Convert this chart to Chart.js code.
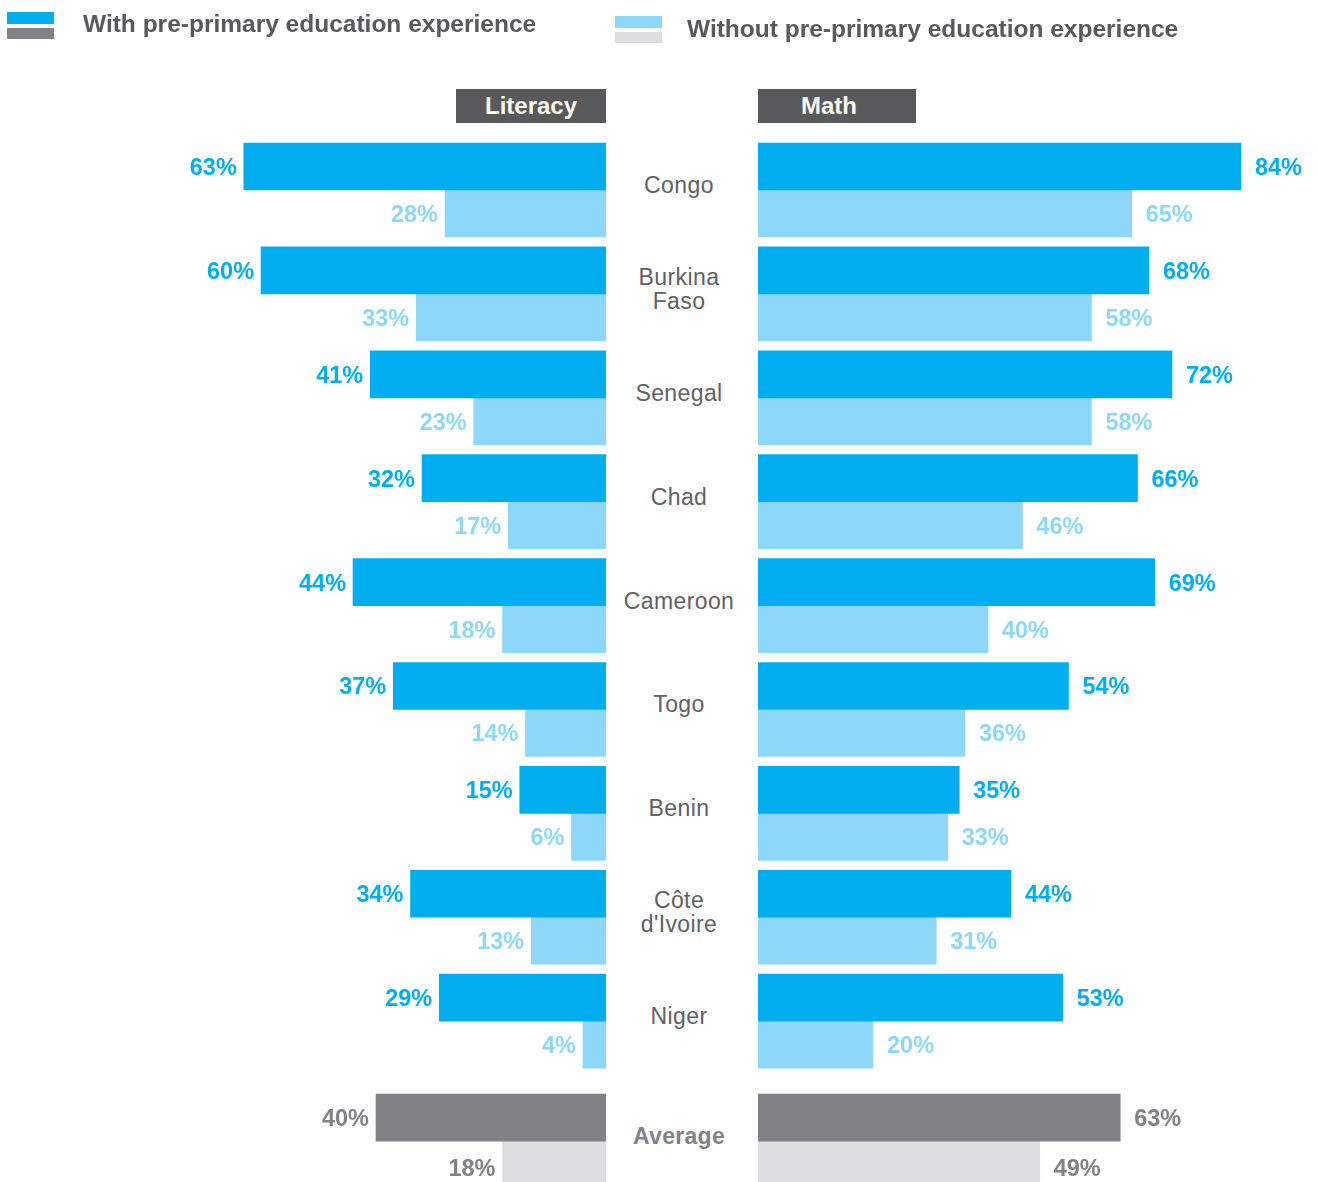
<!DOCTYPE html>
<html>
<head>
<meta charset="utf-8">
<script src="https://cdn.jsdelivr.net/npm/chart.js@4.4.1/dist/chart.umd.min.js"></script>
<style>
  body { margin: 0; background: #fff; overflow: hidden; font-family: "Liberation Sans", Arial, sans-serif; }
  #page { position: relative; width: 1318px; height: 1182px; }
  canvas { position: absolute; top: 0; }
  #litCanvas { left: 0; }
  #mathCanvas { left: 758px; }
  .sw { position: absolute; width: 47px; }
  .legtext { position: absolute; font-weight: bold; font-size: 24.5px; color: #58595b; white-space: nowrap; line-height: 1; }
  .head { position: absolute; top: 89px; height: 34px; background: #58595b; color: #fdfbee;
          font-weight: bold; font-size: 24px; line-height: 34px; text-align: center; box-sizing: border-box; }
  .cat { position: absolute; left: 679px; transform: translate(-50%, -50%); text-align: center;
         font-size: 23px; line-height: 24px; color: #606163; white-space: nowrap; letter-spacing: 0.4px; }
  .cat.avg { font-weight: bold; color: #808285; letter-spacing: 0.3px; }
</style>
</head>
<body>
<div id="page">
  <canvas id="litCanvas" width="606" height="1182"></canvas>
  <canvas id="mathCanvas" width="560" height="1182"></canvas>

  <div class="sw" style="left:7px;top:12px;height:12px;background:#00aeef"></div>
  <div class="sw" style="left:7px;top:28px;height:11px;background:#808285"></div>
  <div class="legtext" style="left:83px;top:12px">With pre-primary education experience</div>
  <div class="sw" style="left:615px;top:16px;height:12px;background:#8dd8f8"></div>
  <div class="sw" style="left:615px;top:32px;height:11px;background:#dcdddf"></div>
  <div class="legtext" style="left:687px;top:17px">Without pre-primary education experience</div>

  <div class="head" style="left:456px;width:150px">Literacy</div>
  <div class="head" style="left:758px;width:158px;padding-right:16px">Math</div>
  <div id="cats"></div>
</div>
<script>
const countries = ["Congo", "Burkina\nFaso", "Senegal", "Chad", "Cameroon", "Togo", "Benin", "Côte\nd'Ivoire", "Niger", "Average"];
const literacyWith    = [63, 60, 41, 32, 44, 37, 15, 34, 29, 40];
const literacyWithout = [28, 33, 23, 17, 18, 14, 6, 13, 4, 18];
const mathWith        = [84, 68, 72, 66, 69, 54, 35, 44, 53, 63];
const mathWithout     = [65, 58, 58, 46, 40, 36, 33, 31, 20, 49];

// row positions on the y scale (the average row sits a bit further down)
const rowPos = countries.map((c, i) => i === countries.length - 1 ? i + 0.154 : i);
const isAvg = i => i === countries.length - 1;

const blue = "#00aeef", lightBlue = "#8dd8f8", gray = "#808285", lightGray = "#dcdddf";

const valueLabels = {
  id: "valueLabels",
  afterDatasetsDraw(chart) {
    const ctx = chart.ctx;
    const left = chart.options.plugins.valueLabels.side === "left";
    ctx.save();
    ctx.font = "bold 23.5px 'Liberation Sans', Arial, sans-serif";
    ctx.textBaseline = "middle";
    ctx.textAlign = left ? "right" : "left";
    chart.data.datasets.forEach((ds, di) => {
      chart.getDatasetMeta(di).data.forEach((bar, i) => {
        ctx.fillStyle = isAvg(i) ? gray : (di === 0 ? blue : lightBlue);
        const x = left ? bar.x - 7 : bar.x + 14;
        const dy = isAvg(i) && di === 1 ? 5 : 2;
        ctx.fillText(ds.data[i].x + "%", x, bar.y + dy);
      });
    });
    ctx.restore();
  }
};

function makeChart(id, withVals, withoutVals, side, xMax) {
  return new Chart(document.getElementById(id), {
    type: "bar",
    data: {
      datasets: [
        {
          data: withVals.map((v, i) => ({ x: v, y: rowPos[i] })),
          backgroundColor: withVals.map((v, i) => isAvg(i) ? gray : blue),
          barThickness: 47
        },
        {
          data: withoutVals.map((v, i) => ({ x: v, y: rowPos[i] })),
          backgroundColor: withoutVals.map((v, i) => isAvg(i) ? lightGray : lightBlue),
          barThickness: 47
        }
      ]
    },
    options: {
      indexAxis: "y",
      responsive: false,
      animation: false,
      layout: { padding: 0 },
      scales: {
        x: { type: "linear", min: 0, max: xMax, reverse: side === "left", display: false },
        y: { type: "linear", min: -1.829, max: 9.548, reverse: true, offset: false, display: false }
      },
      plugins: {
        legend: { display: false },
        tooltip: { enabled: false },
        valueLabels: { side: side }
      }
    },
    plugins: [valueLabels]
  });
}

const litChart = makeChart("litCanvas", literacyWith, literacyWithout, "left", 105.4);
const mathChart = makeChart("mathCanvas", mathWith, mathWithout, "right", 97.4);

// country names in the gap between the two charts
const catBox = document.getElementById("cats");
countries.forEach((name, i) => {
  const d = document.createElement("div");
  d.className = "cat" + (isAvg(i) ? " avg" : "");
  d.style.top = (mathChart.scales.y.getPixelForValue(rowPos[i]) - 5) + "px";
  d.innerHTML = name.replace("\n", "<br>");
  catBox.appendChild(d);
});
</script>
</body>
</html>
